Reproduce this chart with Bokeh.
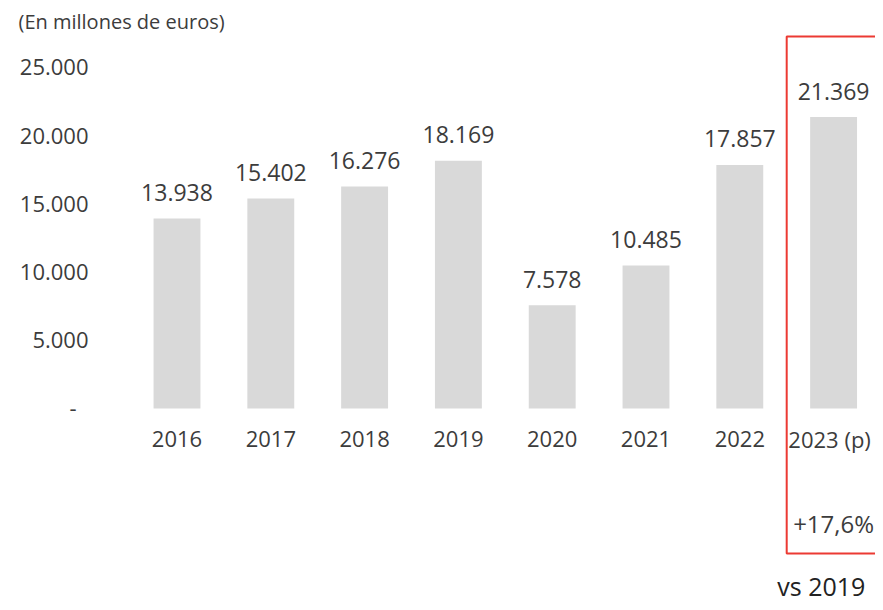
from bokeh.plotting import figure
from bokeh.models import Range1d, ColumnDataSource
from bokeh.core.properties import value
from bokeh.embed import file_html
from bokeh.resources import INLINE

# ---- data ----
years = ["2016", "2017", "2018", "2019", "2020", "2021", "2022", "2023 (p)"]
revenue = [13938, 15402, 16276, 18169, 7578, 10485, 17857, 21369]
y_ticks = [0, 5000, 10000, 15000, 20000, 25000]
y_tick_labels = ["-", "5.000", "10.000", "15.000", "20.000", "25.000"]
growth_label = "+17,6%"
comparison_label = "vs 2019"
unit_label = "(En millones de euros)"

# ---- style ----
FONT = "Open Sans"
TXT = "#3c3c3c"
RED = "#EC3A33"
BAR = "#D9D9D9"


def fmt(v):
    return f"{v:,}".replace(",", ".")


xs = list(range(len(years)))
year_shift = [-4 if i == len(years) - 1 else 0 for i in xs]
src = ColumnDataSource(dict(x=xs, top=revenue, lab=[fmt(v) for v in revenue],
                            year=years, zero=[0] * len(years), yshift=year_shift))

p = figure(width=875, height=602, output_backend="svg", toolbar_location=None,
           x_range=Range1d(-1.8817, 7.4467), y_range=Range1d(-14223, 29912),
           min_border_left=0, min_border_right=0, min_border_top=0, min_border_bottom=0,
           x_axis_type=None, y_axis_type=None)
p.outline_line_color = None
p.grid.visible = False
p.background_fill_color = "white"
p.border_fill_color = "white"

# y tick labels (value axis), right-aligned next to the plot area
ylab_x = -0.9435
dash_shift = [-12 if t == 0 else 0 for t in y_ticks]
p.text(x=[ylab_x] * len(y_ticks), y=y_ticks, text=y_tick_labels, x_offset=dash_shift,
       text_align="right", text_baseline="middle",
       text_font=value(FONT), text_font_size="22px", text_color=TXT)

# bars
p.vbar(x="x", top="top", width=0.5, source=src, fill_color=BAR, line_color=None)

# value labels
p.text(x="x", y="top", text="lab", source=src, text_align="center", text_baseline="middle",
       y_offset=-26, text_font=value(FONT), text_font_size="23px", text_color=TXT)

# category labels
p.text(x="x", y="zero", text="year", source=src, text_align="center", text_baseline="middle",
       x_offset="yshift", y_offset=31, text_font=value(FONT), text_font_size="22px",
       text_color=TXT)

# highlight box around the last year
last = xs[-1]
p.quad(left=[last - 0.5], right=[last + 1.5], top=[27273], bottom=[-10630],
       fill_color=None, line_color=RED, line_width=2)

p.text(x=[last], y=[0], text=[growth_label], text_align="center", text_baseline="middle",
       y_offset=115, text_font=value(FONT), text_font_size="24px", text_color=TXT)
p.text(x=[6.40], y=[0], text=[comparison_label], text_align="left", text_baseline="middle",
       y_offset=178, text_font=value(FONT), text_font_size="25px", text_color="#222222")

# unit note
p.text(x=[-1.69], y=[28372], text=[unit_label], text_align="left", text_baseline="middle",
       text_font=value(FONT), text_font_size="20px", text_color=TXT)

open("out.html", "w").write(file_html(p, INLINE))
